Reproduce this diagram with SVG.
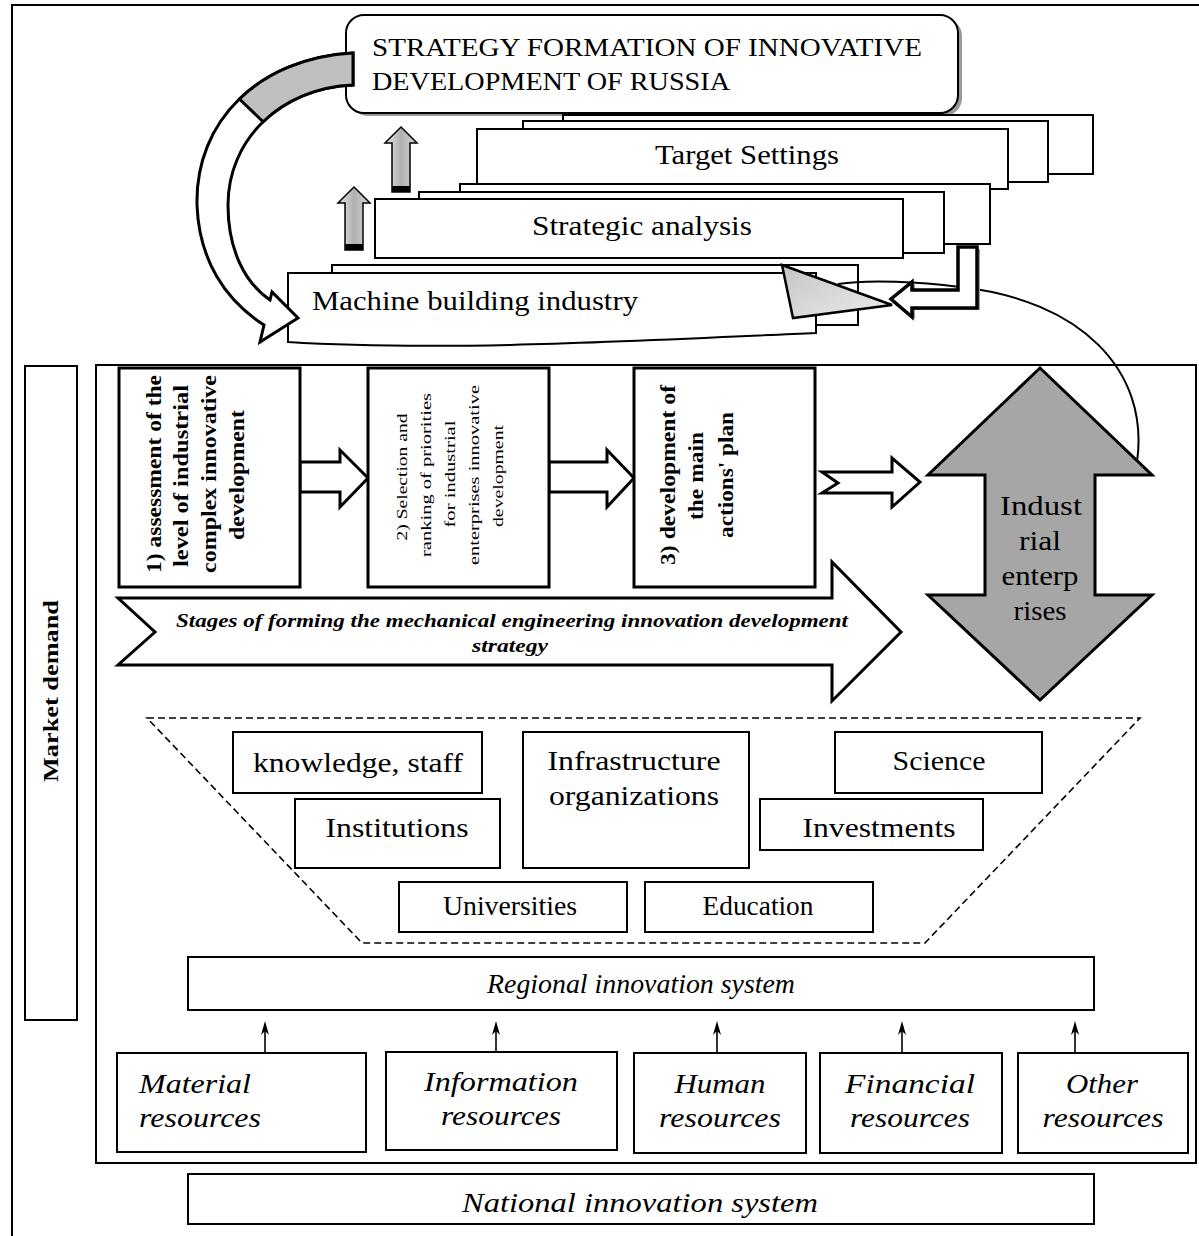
<svg xmlns="http://www.w3.org/2000/svg" width="1199" height="1236" viewBox="0 0 1199 1236">
<defs>
<style>
.b{fill:#fff;stroke:#000;stroke-width:2}
.b3{fill:#fff;stroke:#000;stroke-width:3}
.t{font-family:"Liberation Serif","Times New Roman",serif;fill:#000}
.c{text-anchor:middle}
.it{font-style:italic}
.bd{font-weight:bold}
.ln{fill:none;stroke:#000;stroke-width:2}
.dash{fill:none;stroke:#000;stroke-width:1.6;stroke-dasharray:7 4}
.ga{fill:url(#gs);stroke:#000;stroke-width:1.5}
</style>
<linearGradient id="gs" x1="0" y1="0" x2="1" y2="0"><stop offset="0" stop-color="#e8e8e8"/><stop offset="0.5" stop-color="#b0b0b0"/><stop offset="1" stop-color="#d6d6d6"/></linearGradient>
<linearGradient id="gt" x1="0" y1="0" x2="1" y2="1"><stop offset="0" stop-color="#c4c4c4"/><stop offset="1" stop-color="#ececec"/></linearGradient>
</defs>

<path class="ln" d="M12,1236 V5 H1199"/>

<rect id="main-frame" x="96" y="365" width="1100" height="798" class="b"/>

<g id="market-demand">
<rect x="25" y="366" width="52" height="654" class="b"/>
<text class="t bd c" font-size="21" transform="translate(58,691) rotate(-90)" textLength="182" lengthAdjust="spacingAndGlyphs">Market demand</text>
</g>

<g id="strategy">
<rect x="350" y="18" width="612" height="98" rx="18" fill="#9a9a9a"/>
<rect x="346" y="15" width="612" height="98" rx="18" class="b" stroke-width="1.5"/>
<text class="t" font-size="26" x="372" y="56" textLength="550" lengthAdjust="spacingAndGlyphs">STRATEGY FORMATION OF INNOVATIVE</text>
<text class="t" font-size="26" x="372" y="90" textLength="358" lengthAdjust="spacingAndGlyphs">DEVELOPMENT OF RUSSIA</text>
</g>

<g id="target-settings">
<rect x="563" y="115" width="530" height="59" class="b"/>
<rect x="523" y="121" width="525" height="61" class="b"/>
<rect x="477" y="129" width="531" height="60" class="b"/>
<text class="t c" font-size="27" x="747" y="164" textLength="184" lengthAdjust="spacingAndGlyphs">Target Settings</text>
</g>

<g id="strategic-analysis">
<rect x="460" y="184" width="530" height="60" class="b"/>
<rect x="419" y="192" width="525" height="61" class="b"/>
<rect x="375" y="199" width="528" height="59" class="b"/>
<text class="t c" font-size="27" x="642" y="235" textLength="220" lengthAdjust="spacingAndGlyphs">Strategic analysis</text>
</g>

<g id="machine-building">
<rect x="332" y="265" width="526" height="60" class="b"/>
<path class="b" d="M288,273 H816 V333 C650,340 450,352 288,342 Z"/>
<text class="t" font-size="27" x="312" y="310" textLength="326" lengthAdjust="spacingAndGlyphs">Machine building industry</text>
</g>

<g id="up-arrows">
<path class="ga" d="M401,127 L417,143 L410,143 L410,192 L392,192 L392,143 L385,143 Z"/>
<rect x="392" y="186" width="18" height="6" fill="#000"/>
<path class="ga" d="M354,187 L370,203 L363,203 L363,250 L345,250 L345,203 L338,203 Z"/>
<rect x="345" y="244" width="18" height="6" fill="#000"/>
</g>

<g id="connectors">
<path class="b3" d="M353,53 C260,58 195,120 197,205 C199,260 225,300 264,325 L260,342 L298,318 L272,292 L270,300 C245,283 228,250 228,205 C228,140 280,88 353,85 Z"/>
<path d="M353,53 C306.5,55.5 267,72.25 239.4,99 L263.1,121.75 C285.25,100.25 316.5,86.5 353,85 Z" fill="#c0c0c0" stroke="#000" stroke-width="3"/>
<path class="ln" d="M1137,462 C1150,370 1080,300 960,287 C920,282 870,279 838,284"/>
<path d="M782,265 L892,305 L793,318 Z" fill="url(#gt)" stroke="#000" stroke-width="2.5"/>
<path d="M961,249 H980 V310 H915 V319 L894,301 L915,284 V292 H961 Z" fill="#9a9a9a"/>
<path d="M958,247 H977 V308 H912 V317 L891,299 L912,282 V290 H958 Z" fill="#fff" stroke="#000" stroke-width="3.5"/>
<path class="b3" stroke-width="2.5" d="M300,462 H340 V450 L368,478 L340,507 V492 H300 Z"/>
<path class="b3" stroke-width="2.5" d="M549,462 H607 V450 L634,478 L607,507 V492 H549 Z"/>
<path class="b3" stroke-width="2.5" d="M822,472 H892 V458 L920,482 L892,507 V493 H822 L838,483 Z"/>
<g stroke="#000" stroke-width="1.6">
<line x1="265" y1="1053" x2="265" y2="1026"/>
<line x1="496" y1="1052" x2="496" y2="1026"/>
<line x1="717" y1="1053" x2="717" y2="1026"/>
<line x1="902" y1="1053" x2="902" y2="1026"/>
<line x1="1075" y1="1053" x2="1075" y2="1026"/>
</g>
<g fill="#000">
<path d="M261,1035 L265,1021 L269,1035 L265,1031 Z"/>
<path d="M492,1035 L496,1021 L500,1035 L496,1031 Z"/>
<path d="M713,1035 L717,1021 L721,1035 L717,1031 Z"/>
<path d="M898,1035 L902,1021 L906,1035 L902,1031 Z"/>
<path d="M1071,1035 L1075,1021 L1079,1035 L1075,1031 Z"/>
</g>
</g>

<g id="stage1">
<rect x="119" y="368" width="181" height="219" class="b3"/>
<g class="t bd c" font-size="20">
<text transform="translate(161,474) rotate(-90)" textLength="198" lengthAdjust="spacingAndGlyphs">1) assessment of the</text>
<text transform="translate(188,476) rotate(-90)" textLength="182" lengthAdjust="spacingAndGlyphs">level of industrial</text>
<text transform="translate(216,474) rotate(-90)" textLength="198" lengthAdjust="spacingAndGlyphs">complex innovative</text>
<text transform="translate(244,475) rotate(-90)" textLength="130" lengthAdjust="spacingAndGlyphs">development</text>
</g>
</g>

<g id="stage2">
<rect x="368" y="368" width="181" height="219" class="b3"/>
<g class="t c" font-size="15">
<text transform="translate(407,477) rotate(-90)" textLength="127" lengthAdjust="spacingAndGlyphs">2) Selection and</text>
<text transform="translate(431,475) rotate(-90)" textLength="164" lengthAdjust="spacingAndGlyphs">ranking of priorities</text>
<text transform="translate(455,474) rotate(-90)" textLength="107" lengthAdjust="spacingAndGlyphs">for industrial</text>
<text transform="translate(479,475) rotate(-90)" textLength="180" lengthAdjust="spacingAndGlyphs">enterprises innovative</text>
<text transform="translate(503,476) rotate(-90)" textLength="102" lengthAdjust="spacingAndGlyphs">development</text>
</g>
</g>

<g id="stage3">
<rect x="634" y="368" width="181" height="219" class="b3"/>
<g class="t bd c" font-size="20">
<text transform="translate(675,475) rotate(-90)" textLength="180" lengthAdjust="spacingAndGlyphs">3) development of</text>
<text transform="translate(703,476) rotate(-90)" textLength="88" lengthAdjust="spacingAndGlyphs">the main</text>
<text transform="translate(733,475) rotate(-90)" textLength="126" lengthAdjust="spacingAndGlyphs">actions' plan</text>
</g>
</g>

<g id="industrial-enterprises">
<path d="M1040,368 L1152,475 H1095 V595 H1152 L1040,700 L928,595 H985 V475 H928 Z" fill="#a6a6a6" stroke="#000" stroke-width="3"/>
<g class="t c" font-size="28">
<text x="1041" y="515" textLength="82" lengthAdjust="spacingAndGlyphs">Indust</text>
<text x="1040" y="550" textLength="42" lengthAdjust="spacingAndGlyphs">rial</text>
<text x="1040" y="585" textLength="77" lengthAdjust="spacingAndGlyphs">enterp</text>
<text x="1040" y="620" textLength="53" lengthAdjust="spacingAndGlyphs">rises</text>
</g>
</g>

<g id="stages">
<path class="b3" d="M118,598 H832 V562 L901,632 L832,701 V665 H118 L155,632 Z"/>
<text class="t bd it" font-size="19" x="176" y="627" textLength="672" lengthAdjust="spacingAndGlyphs">Stages of forming the mechanical engineering innovation  development</text>
<text class="t bd it" font-size="19" x="472" y="652" textLength="76" lengthAdjust="spacingAndGlyphs">strategy</text>
</g>

<path id="funnel" class="dash" d="M147,718 H1140 L925,943 H362 Z"/>

<g class="t c" font-size="27">
<g id="knowledge"><rect x="233" y="732" width="249" height="61" class="b"/><text x="358" y="772" textLength="210" lengthAdjust="spacingAndGlyphs">knowledge, staff</text></g>
<g id="infrastructure"><rect x="523" y="732" width="226" height="136" class="b"/><text x="634" y="770" textLength="173" lengthAdjust="spacingAndGlyphs">Infrastructure</text><text x="634" y="805" textLength="170" lengthAdjust="spacingAndGlyphs">organizations</text></g>
<g id="science"><rect x="835" y="732" width="207" height="61" class="b"/><text x="939" y="770" textLength="93" lengthAdjust="spacingAndGlyphs">Science</text></g>
<g id="institutions"><rect x="295" y="799" width="205" height="69" class="b"/><text x="397" y="837" textLength="143" lengthAdjust="spacingAndGlyphs">Institutions</text></g>
<g id="investments"><rect x="760" y="799" width="223" height="51" class="b"/><text x="879" y="837" textLength="153" lengthAdjust="spacingAndGlyphs">Investments</text></g>
<g id="universities"><rect x="399" y="882" width="228" height="50" class="b"/><text x="510" y="915" textLength="134" lengthAdjust="spacingAndGlyphs">Universities</text></g>
<g id="education"><rect x="645" y="882" width="228" height="50" class="b"/><text x="758" y="915" textLength="111" lengthAdjust="spacingAndGlyphs">Education</text></g>
</g>

<g id="regional">
<rect x="188" y="957" width="906" height="53" class="b"/>
<text class="t it c" font-size="27" x="641" y="993" textLength="308" lengthAdjust="spacingAndGlyphs">Regional innovation system</text>
</g>

<g class="t it" font-size="27">
<g id="material"><rect x="117" y="1053" width="249" height="99" class="b"/><text x="139" y="1093" textLength="112" lengthAdjust="spacingAndGlyphs">Material</text><text x="139" y="1127" textLength="122" lengthAdjust="spacingAndGlyphs">resources</text></g>
<g id="information" class="c"><rect x="386" y="1052" width="231" height="98" class="b"/><text x="501" y="1091" textLength="154" lengthAdjust="spacingAndGlyphs">Information</text><text x="501" y="1125" textLength="120" lengthAdjust="spacingAndGlyphs">resources</text></g>
<g id="human" class="c"><rect x="634" y="1053" width="172" height="100" class="b"/><text x="720" y="1093" textLength="91" lengthAdjust="spacingAndGlyphs">Human</text><text x="720" y="1127" textLength="122" lengthAdjust="spacingAndGlyphs">resources</text></g>
<g id="financial" class="c"><rect x="820" y="1053" width="182" height="100" class="b"/><text x="910" y="1093" textLength="130" lengthAdjust="spacingAndGlyphs">Financial</text><text x="910" y="1127" textLength="120" lengthAdjust="spacingAndGlyphs">resources</text></g>
<g id="other" class="c"><rect x="1018" y="1053" width="170" height="100" class="b"/><text x="1102" y="1093" textLength="72" lengthAdjust="spacingAndGlyphs">Other</text><text x="1103" y="1127" textLength="121" lengthAdjust="spacingAndGlyphs">resources</text></g>
</g>

<g id="national">
<rect x="188" y="1174" width="906" height="50" class="b"/>
<text class="t it c" font-size="27" x="640" y="1212" textLength="356" lengthAdjust="spacingAndGlyphs">National innovation system</text>
</g>
</svg>
